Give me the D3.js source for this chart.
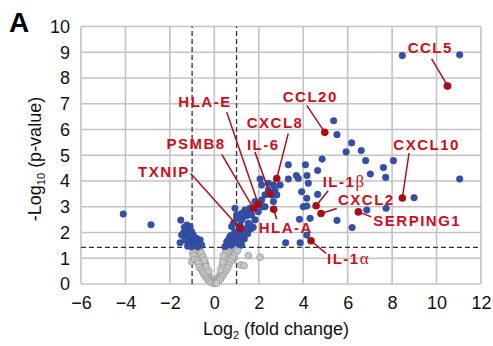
<!DOCTYPE html>
<html><head><meta charset="utf-8">
<script src="https://cdn.jsdelivr.net/npm/d3@7/dist/d3.min.js"></script>
<style>body{margin:0;background:#fff}svg{display:block}</style>
</head><body><svg id="chart" width="493" height="346"></svg>
<script>
// ---- data ----
const xTicks = [-6,-4,-2,0,2,4,6,8,10,12];
const yTicks = [0,1,2,3,4,5,6,7,8,9,10];
const foldThreshold = [-1, 1];
const pThreshold = 1.42;

const greyPoints = [
[-0.95,1.38],[-0.88,1.35],[-0.8,1.37],[-0.92,1.25],[-0.85,1.2],[-0.78,1.25],[-0.72,1.3],[-0.82,1.1],[-0.75,1.05],[-0.68,1.12],
[-0.7,0.95],[-0.62,1.0],[-0.64,0.85],[-0.57,0.9],[-0.55,0.78],[-0.6,0.7],[-0.5,0.7],[-0.48,0.6],[-0.42,0.62],[-0.45,0.5],
[-0.38,0.52],[-0.35,0.42],[-0.3,0.45],[-0.3,0.35],[-0.25,0.3],[-0.22,0.25],[-0.18,0.2],[-0.15,0.15],[-0.1,0.12],[-0.08,0.08],
[-0.05,0.05],[-1.02,0.87],[-0.64,0.74],[-0.85,1.05],[-0.9,1.3],[-0.52,0.95],[-0.4,0.8],
[-0.98,1.2],[-0.93,1.1],[-0.88,0.95],[-0.78,0.9],[-0.72,0.8],[-0.68,0.65],[-0.58,0.55],[-0.52,0.45],[-0.46,0.38],[-0.4,0.3],
[-0.33,0.22],[-0.28,0.15],[-0.2,0.1],[-0.12,0.05],[-0.65,1.38],[-0.58,1.2],[-0.5,1.05],[-0.44,0.92],[-0.36,0.68],[-0.25,0.5],
[0.02,0.02],[0.05,0.06],[0.1,0.1],[0.14,0.17],[0.18,0.22],[0.22,0.3],[0.27,0.33],[0.3,0.4],[0.34,0.45],[0.38,0.5],
[0.42,0.58],[0.45,0.62],[0.5,0.7],[0.55,0.75],[0.52,0.82],[0.58,0.85],[0.62,0.9],[0.6,0.98],[0.66,1.0],[0.7,1.05],
[0.68,1.12],[0.74,1.15],[0.78,1.2],[0.72,1.25],[0.8,1.3],[0.85,1.35],[0.9,1.38],[0.76,1.36],[0.64,1.3],[0.55,1.2],
[0.45,0.9],[0.35,0.7],[0.48,1.05],
[0.95,1.25],[0.9,1.1],[0.85,0.95],[0.8,1.0],[0.72,0.88],[0.66,0.75],[0.6,0.62],[0.5,0.5],[0.42,0.4],[0.35,0.3],
[0.28,0.2],[0.2,0.12],[0.1,0.04],[0.6,1.4],[0.5,1.35],[0.4,1.1],[0.38,0.85],[0.28,0.55],[0.95,1.4],[1.05,1.3],
[1.2,0.74],[1.34,0.71],[1.53,1.1],[2.06,1.04]
];

const bluePoints = [
[-4.1,2.72],[-2.85,2.3],
[-1.51,2.48],[-1.24,2.29],[-1.09,2.23],[-1.17,2.1],[-1.4,1.97],[-1.02,2.03],[-0.95,1.9],[-1.24,1.84],[-1.47,1.9],[-0.8,1.77],
[-1.09,1.71],[-0.64,1.71],[-0.95,1.64],[-1.54,1.6],[-1.17,1.58],[-0.72,1.58],[-0.87,1.51],[-0.57,1.51],[-1.02,1.45],[-1.32,1.71],
[-1.27,2.03],[-1.06,1.86],[-0.75,1.45],[-1.2,1.47],[-1.35,2.2],[-1.12,1.95],
[0.48,1.45],[0.56,1.64],[0.62,1.52],[0.7,1.84],[0.78,1.51],[0.78,1.9],[0.78,2.23],[0.86,2.36],[0.88,1.75],[0.93,2.03],
[0.93,2.94],[1.0,1.64],[1.0,1.97],[1.0,2.55],[1.0,2.68],[1.1,1.55],[1.1,1.8],[1.16,2.29],[1.23,1.51],[1.23,1.9],
[1.23,2.49],[1.3,2.61],[1.35,1.75],[1.38,2.1],[1.46,2.65],[1.5,1.95],[1.53,2.36],[1.53,2.75],[1.6,2.94],[1.65,2.15],
[1.68,2.68],[1.75,2.2],[1.83,2.49],[1.83,3.2],[1.98,2.81],[2.06,4.08],[2.13,3.26],[2.2,3.0],[2.28,3.46],[2.43,3.91],
[2.66,3.2],[2.81,3.46],[2.96,3.84],[2.43,3.65],[2.58,3.46],[2.73,3.65],[2.66,3.84],[2.13,3.84],[1.38,2.87],[1.23,2.75],
[1.6,2.29],[1.46,2.16],[1.31,1.97],[1.16,1.84],[0.63,1.71],[1.08,1.64],[2.28,3.0],
[3.21,1.6],[3.33,4.08],[3.33,4.63],[3.69,4.21],[3.83,2.51],[3.86,1.6],[3.93,3.58],[4.0,3.0],[4.1,4.63],[4.16,1.9],
[4.16,3.03],[4.16,3.33],[4.17,4.21],[4.23,3.91],[4.31,2.55],[4.65,3.48],[4.65,4.41],[4.85,4.85],[3.78,4.1],
[5.37,6.34],[5.52,5.8],[6.18,5.48],[5.93,5.13],[6.61,5.18],[6.81,4.79],[8.06,4.79],[7.61,4.52],[7.02,4.27],[7.71,4.14],
[11.04,4.08],[8.46,8.87],[11.04,8.9],[10.47,7.69],[5.52,2.47],[6.2,2.19],[6.86,2.87],[7.73,2.94],[8.99,3.35]
];

const geneNames = ["CCL5","CCL20","CXCL8","IL-6","HLA-E","PSMB8","TXNIP","HLA-A","IL-1β","CXCL2","SERPING1","CXCL10","IL-1α"];
const geneX = [10.5, 4.97, 2.81, 2.5, 1.98, 1.76, 1.16, 2.67, 4.58, 4.8, 6.48, 8.46, 4.35];
const geneY = [7.69, 5.89, 4.1, 3.5, 3.1, 2.94, 2.16, 2.9, 3.04, 2.74, 2.8, 3.34, 1.68];

// ---- layout (pixel offsets from each gene point: label left/baseline, leader start) ----
const labelLayout = {
  "CCL5":    {lx:-40, ly:-33, sx:-16,  sy:-27},
  "CCL20":   {lx:-42, ly:-30, sx:-18,  sy:-27},
  "CXCL8":   {lx:-30, ly:-50, sx:11.5, sy:-45},
  "IL-6":    {lx:-23, ly:-44, sx:-15,  sy:-42},
  "HLA-E":   {lx:-80, ly:-97, sx:-31.6,sy:-92},
  "PSMB8":   {lx:-87, ly:-59, sx:-31.7,sy:-54},
  "TXNIP":   {lx:-102,ly:-51, sx:-49.4,sy:-55},
  "HLA-A":   {lx:-15, ly:24,  sx:3,    sy:10},
  "IL-1β":   {lx:6.6, ly:-19, sx:12,   sy:-15},
  "CXCL2":   {lx:17,  ly:-8,  sx:15.7, sy:-5},
  "SERPING1":{lx:15,  ly:14,  sx:13,   sy:5},
  "CXCL10":  {lx:-9,  ly:-48, sx:6.7,  sy:-45},
  "IL-1α":   {lx:16,  ly:23,  sx:15,   sy:12.6}
};

const svg = d3.select("#chart");
const x = d3.scaleLinear().domain([-6,12]).range([81,481]);
const y = d3.scaleLinear().domain([0,10]).range([284,26.5]);
const FONT = "'Liberation Sans', Arial, sans-serif";
const gridCol = "#c3c3c3";

// grid
const g = svg.append("g");
g.selectAll(".vg").data(xTicks).enter().append("line")
  .attr("x1", d=>x(d)).attr("x2", d=>x(d)).attr("y1", y(0)).attr("y2", y(10))
  .attr("stroke", gridCol).attr("stroke-width", 1.6);
g.selectAll(".hg").data(yTicks).enter().append("line")
  .attr("y1", d=>y(d)).attr("y2", d=>y(d)).attr("x1", x(-6)).attr("x2", x(12))
  .attr("stroke", gridCol).attr("stroke-width", 1.6);

// axes
const xAxis = svg.append("g").attr("transform", `translate(0,${y(0)})`)
  .call(d3.axisBottom(x).tickValues(xTicks).tickSize(0).tickPadding(12).tickFormat(d3.format("d")));
const yAxis = svg.append("g").attr("transform", `translate(${x(-6)},0)`)
  .call(d3.axisLeft(y).tickValues(yTicks).tickSize(0).tickPadding(11).tickFormat(d3.format("d")));
[xAxis, yAxis].forEach(a => {
  a.select(".domain").remove();
  a.selectAll("text").attr("font-family", FONT).attr("font-size", 18).attr("fill", "#111");
});

// threshold lines
svg.selectAll(".vt").data(foldThreshold).enter().append("line")
  .attr("x1", d=>x(d)).attr("x2", d=>x(d)).attr("y1", y(0)).attr("y2", y(10))
  .attr("stroke", "#333").attr("stroke-width", 1.3).attr("stroke-dasharray", "5,3");
svg.append("line").attr("x1", x(-6)).attr("x2", x(12)).attr("y1", y(pThreshold)).attr("y2", y(pThreshold))
  .attr("stroke", "#333").attr("stroke-width", 1.3).attr("stroke-dasharray", "5,3");

// points
svg.append("g").selectAll("circle").data(greyPoints).enter().append("circle")
  .attr("cx", d=>x(d[0])).attr("cy", d=>y(d[1])).attr("r", 3.4)
  .attr("fill", "#c6c6c6").attr("stroke", "#9c9c9c").attr("stroke-width", 0.8);
svg.append("g").selectAll("circle").data(bluePoints).enter().append("circle")
  .attr("cx", d=>x(d[0])).attr("cy", d=>y(d[1])).attr("r", 3.3)
  .attr("fill", "#3450a6").attr("stroke", "#2a4290").attr("stroke-width", 0.5);

// genes
const genes = geneNames.map((n,i)=>({name:n, px:x(geneX[i]), py:y(geneY[i]), L:labelLayout[n]}));
svg.append("g").selectAll("line").data(genes).enter().append("line")
  .attr("x1", d=>d.px + d.L.sx).attr("y1", d=>d.py + d.L.sy)
  .attr("x2", d=>d.px).attr("y2", d=>d.py)
  .attr("stroke", "#a8101c").attr("stroke-width", 1.5);
svg.append("g").selectAll("circle").data(genes).enter().append("circle")
  .attr("cx", d=>d.px).attr("cy", d=>d.py).attr("r", 3.8)
  .attr("fill", "#a50f1a");

const lbl = svg.append("g").selectAll("text").data(genes).enter().append("text")
  .attr("x", d=>d.px + d.L.lx).attr("y", d=>d.py + d.L.ly)
  .attr("font-family", FONT).attr("font-size", 15).attr("font-weight", "bold")
  .attr("letter-spacing", 1.5).attr("fill", "#c8101e");
lbl.each(function(d){
  const t = d3.select(this);
  const last = d.name.slice(-1);
  if (last === "β" || last === "α") {
    t.append("tspan").text(d.name.slice(0,-1));
    t.append("tspan").text(last).attr("font-weight","normal")
      .attr("font-family","'Liberation Serif','DejaVu Serif',serif").attr("font-size",17);
  } else t.text(d.name);
});

// axis titles
const xt = svg.append("text").attr("x", 276).attr("y", 335).attr("text-anchor","middle")
  .attr("font-family", FONT).attr("font-size", 18).attr("fill","#111");
xt.append("tspan").text("Log");
xt.append("tspan").text("2").attr("font-size", 11).attr("dy", 4);
xt.append("tspan").text(" (fold change)").attr("dy", -4);

const yt = svg.append("text").attr("transform","translate(41,159) rotate(-90)").attr("text-anchor","middle")
  .attr("font-family", FONT).attr("font-size", 18).attr("fill","#111");
yt.append("tspan").text("-Log");
yt.append("tspan").text("10").attr("font-size", 11).attr("dy", 4);
yt.append("tspan").text(" (p-value)").attr("dy", -4);

// panel letter
svg.append("text").attr("x", 9).attr("y", 32).attr("font-family", FONT)
  .attr("font-size", 28).attr("font-weight","bold").attr("fill","#000").text("A");
</script></body></html>
